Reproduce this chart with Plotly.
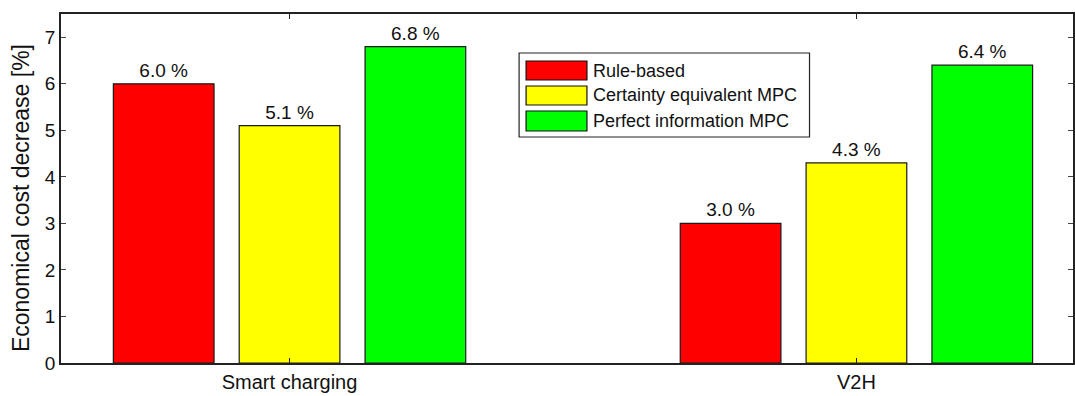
import plotly.graph_objects as go

categories = ["Smart charging", "V2H"]
series_names = ["Rule-based", "Certainty equivalent MPC", "Perfect information MPC"]
rule_based = [6.0, 3.0]
certainty_mpc = [5.1, 4.3]
perfect_mpc = [6.8, 6.4]
colors = ["#ff0000", "#ffff00", "#00ff00"]
y_ticks = [0, 1, 2, 3, 4, 5, 6, 7]
y_title = "Economical cost decrease [%]"

FONT = "Liberation Sans, Arial, Helvetica, sans-serif"
xpos = [1, 2]

fig = go.Figure()
for name, vals, col in zip(series_names, [rule_based, certainty_mpc, perfect_mpc], colors):
    fig.add_trace(go.Bar(
        x=xpos, y=vals, name=name,
        marker=dict(color=col, line=dict(color="#1a1a1a", width=1.2)),
        text=[f"{v:.1f} %" for v in vals],
        textposition="outside", cliponaxis=False,
        textfont=dict(family=FONT, size=19, color="#111"),
        showlegend=False,
    ))

# custom legend (MATLAB style, large swatches)
W, H = 1075, 396
ml, mt, mb, mr = 61, 14, 33, 0
pw, ph = W - ml - mr, H - mt - mb

def px2paper(x, y):
    return (x - ml) / pw, 1 - (y - mt) / ph

shapes = []
x0, y0 = px2paper(520, 53)
x1, y1 = px2paper(811, 137)
shapes.append(dict(type="rect", xref="paper", yref="paper", x0=x0, y0=y0, x1=x1, y1=y1,
                   line=dict(color="#222", width=1.2), fillcolor="white", layer="above"))
rows = [(61, 80), (86, 105), (111, 131)]
annotations = []
for (ta, tb), name, col in zip(rows, series_names, colors):
    a0, b0 = px2paper(527, ta)
    a1, b1 = px2paper(588, tb)
    shapes.append(dict(type="rect", xref="paper", yref="paper", x0=a0, y0=b0, x1=a1, y1=b1,
                       line=dict(color="#111", width=1.2), fillcolor=col, layer="above"))
    tx, ty = px2paper(592, (ta + tb) / 2)
    annotations.append(dict(xref="paper", yref="paper", x=tx, y=ty, text=name, showarrow=False,
                            xanchor="left", yanchor="middle",
                            font=dict(family=FONT, size=18, color="#111")))

# y-axis title placed like the original
tx, ty = px2paper(21, 198)
annotations.append(dict(xref="paper", yref="paper", x=tx, y=ty, text=y_title, showarrow=False,
                        textangle=-90, xanchor="center", yanchor="middle",
                        font=dict(family=FONT, size=23, color="#111")))

fig.update_layout(
    width=W, height=H,
    margin=dict(l=ml, r=mr, t=mt, b=mb, pad=0),
    paper_bgcolor="white", plot_bgcolor="white",
    barmode="group", bargap=0.334, bargroupgap=0.2,
    shapes=shapes, annotations=annotations,
    font=dict(family=FONT, size=17, color="#111"),
)
fig.update_xaxes(
    range=[1 - 229 / 568, 2 + 217 / 568],
    tickvals=xpos, ticktext=categories,
    ticks="inside", ticklen=5, tickcolor="#222", tickwidth=1,
    showline=True, linecolor="#222", linewidth=1.5, mirror="ticks",
    showgrid=False, zeroline=False,
    tickfont=dict(family=FONT, size=20, color="#111"),
)
fig.update_yaxes(
    range=[0, 7.5], tickvals=y_ticks,
    ticks="inside", ticklen=5, tickcolor="#444", tickwidth=1,
    showline=True, linecolor="#222", linewidth=1.5, mirror="ticks",
    showgrid=False, zeroline=False,
    tickfont=dict(family=FONT, size=19, color="#111"),
)

fig.write_html("out.html")
